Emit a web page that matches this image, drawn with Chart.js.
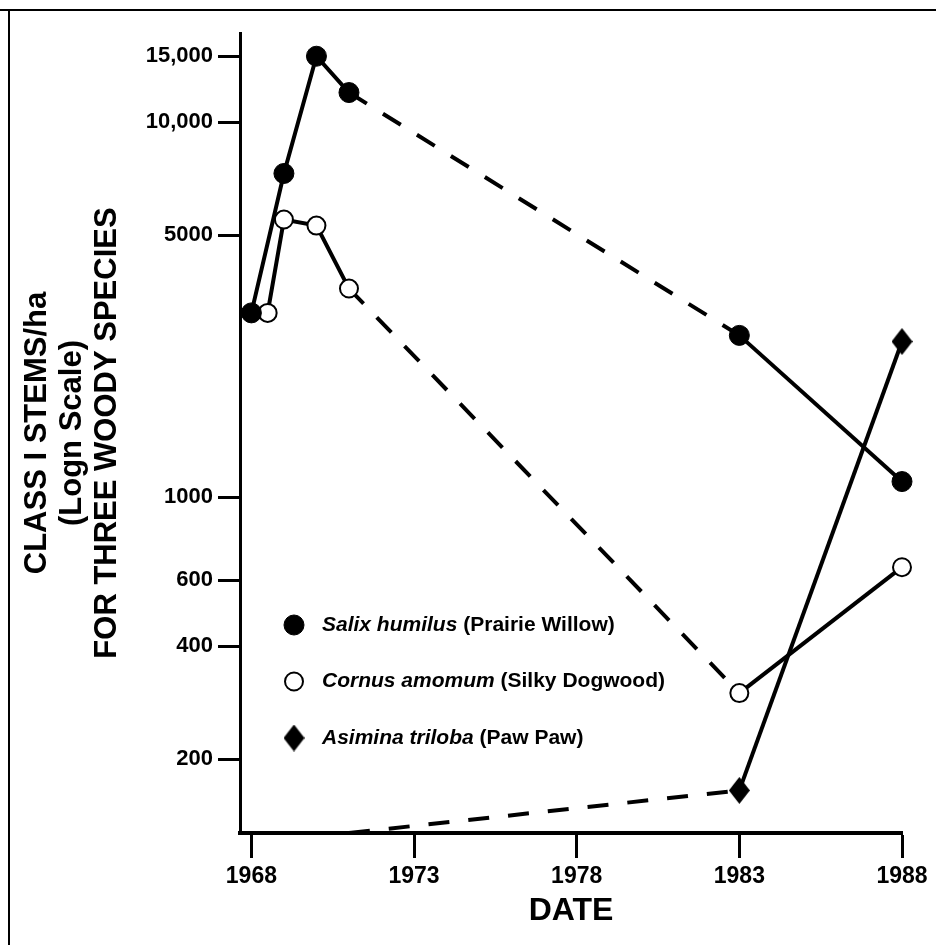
<!DOCTYPE html>
<html>
<head>
<meta charset="utf-8">
<title>Class I stems of three woody species</title>
<script src="https://cdn.jsdelivr.net/npm/chart.js@4.4.1/dist/chart.umd.min.js"></script>
<style>
  html, body { margin: 0; padding: 0; background: #fff; }
  #chart { display: block; }
</style>
</head>
<body>
<canvas id="chart" width="936" height="945"></canvas>
<script>
// Class I stems/ha (log scale)
const salixYears   = [1968, 1969, 1970, 1971, 1983, 1988];
const salixStems   = [3100, 7300, 15000, 12000, 2700, 1100];
const cornusYears  = [1968.5, 1969, 1970, 1971, 1983, 1988];
const cornusStems  = [3100, 5500, 5300, 3600, 300, 650];
// none recorded in 1971: the line leaves from the axis floor
const asiminaYears = [1971, 1983, 1988];
const asiminaStems = [127, 165, 2600];

const speciesLatin  = ["Salix humilus", "Cornus amomum", "Asimina triloba"];
const speciesCommon = ["(Prairie Willow)", "(Silky Dogwood)", "(Paw Paw)"];

const yearTicks = [1968, 1973, 1978, 1983, 1988];
const stemTicks = [200, 400, 600, 1000, 5000, 10000, 15000];

const yTitle = ["CLASS I STEMS/ha", "(Logn Scale)", "FOR THREE WOODY SPECIES"];
const xTitle = "DATE";

const Y_MIN = 127;
const Y_MAX = 17300;
const X_MIN = 1967.65;
const X_MAX = 1988;

const FONT = "'Liberation Sans', Arial, Helvetica, sans-serif";
const DASH = [21, 19];

// tall diamond marker (canvas pointStyle)
function diamond(w, h) {
  const c = document.createElement("canvas");
  c.width = w;
  c.height = h;
  const g = c.getContext("2d");
  g.fillStyle = "#000";
  g.beginPath();
  g.moveTo(w / 2, 0);
  g.lineTo(w, h / 2);
  g.lineTo(w / 2, h);
  g.lineTo(0, h / 2);
  g.closePath();
  g.fill();
  return c;
}
const diamondMark = diamond(21, 27);

const toPoints = (xs, ys) => xs.map((x, i) => ({ x, y: ys[i] }));

// long gaps between surveys are drawn dashed
const segmentStyle = {
  borderDash: (c) => (c.p1.parsed.x - c.p0.parsed.x > 5 ? DASH : undefined),
};

const floorless = (r) => (c) => (c.raw && c.raw.y <= Y_MIN ? 0 : r);

const datasets = [
  {
    label: speciesLatin[0],
    data: toPoints(salixYears, salixStems),
    borderColor: "#000",
    borderWidth: 4,
    pointStyle: "circle",
    pointRadius: 10,
    pointBackgroundColor: "#000",
    pointBorderColor: "#000",
    pointBorderWidth: 1,
    segment: segmentStyle,
    clip: false,
  },
  {
    label: speciesLatin[1],
    data: toPoints(cornusYears, cornusStems),
    borderColor: "#000",
    borderWidth: 4,
    pointStyle: "circle",
    pointRadius: 9,
    pointBackgroundColor: "#fff",
    pointBorderColor: "#000",
    pointBorderWidth: 2,
    segment: segmentStyle,
    clip: false,
  },
  {
    label: speciesLatin[2],
    data: toPoints(asiminaYears, asiminaStems),
    borderColor: "#000",
    borderWidth: 4,
    pointStyle: diamondMark,
    pointRadius: floorless(10),
    pointBackgroundColor: "#000",
    pointBorderColor: "#000",
    pointBorderWidth: 0,
    segment: segmentStyle,
    clip: false,
  },
];

// legend sits inside the plot, italic latin name + plain common name
const LEGEND_X = 294;
const LEGEND_TOP = 625;
const LEGEND_STEP = 56.5;
const LEGEND_TEXT_X = 322;

function drawMarker(ctx, ds, x, y) {
  const radius = typeof ds.pointRadius === "function" ? 10 : ds.pointRadius;
  ctx.fillStyle = ds.pointBackgroundColor;
  ctx.strokeStyle = ds.pointBorderColor;
  ctx.lineWidth = ds.pointBorderWidth;
  if (Chart.helpers && Chart.helpers.drawPoint) {
    Chart.helpers.drawPoint(ctx, { pointStyle: ds.pointStyle, radius, borderWidth: ds.pointBorderWidth, rotation: 0 }, x, y);
  } else if (ds.pointStyle === "circle") {
    ctx.beginPath();
    ctx.arc(x, y, radius, 0, Math.PI * 2);
    ctx.fill();
    if (ds.pointBorderWidth) ctx.stroke();
  } else {
    ctx.drawImage(ds.pointStyle, x - ds.pointStyle.width / 2, y - ds.pointStyle.height / 2);
  }
}

const insideLegend = {
  id: "insideLegend",
  afterDatasetsDraw(chart) {
    const { ctx } = chart;
    ctx.save();
    chart.data.datasets.forEach((ds, i) => {
      const y = LEGEND_TOP + i * LEGEND_STEP;
      drawMarker(ctx, ds, LEGEND_X, y);
      ctx.fillStyle = "#000";
      ctx.textBaseline = "middle";
      ctx.textAlign = "left";
      ctx.font = `italic bold 21px ${FONT}`;
      ctx.fillText(speciesLatin[i], LEGEND_TEXT_X, y);
      const w = ctx.measureText(speciesLatin[i] + " ").width;
      ctx.font = `bold 21px ${FONT}`;
      ctx.fillText(speciesCommon[i], LEGEND_TEXT_X + w, y);
    });
    ctx.restore();
  },
};

// white page and the scanned frame lines (top and left)
const pageFrame = {
  id: "pageFrame",
  beforeDraw(chart) {
    const { ctx, width, height } = chart;
    ctx.save();
    ctx.fillStyle = "#fff";
    ctx.fillRect(0, 0, width, height);
    ctx.restore();
  },
  afterDraw(chart) {
    const { ctx, width, height } = chart;
    ctx.save();
    ctx.strokeStyle = "#000";
    ctx.lineWidth = 2;
    ctx.beginPath();
    ctx.moveTo(0, 10);
    ctx.lineTo(width, 10);
    ctx.moveTo(9, 9);
    ctx.lineTo(9, height);
    ctx.stroke();
    ctx.restore();
  },
};

new Chart(document.getElementById("chart"), {
  type: "line",
  data: { datasets },
  plugins: [pageFrame, insideLegend],
  options: {
    responsive: false,
    animation: false,
    devicePixelRatio: 1,
    events: [],
    layout: { padding: { top: 33, right: 34, bottom: 0, left: 0 } },
    plugins: {
      legend: { display: false },
      tooltip: { enabled: false },
    },
    scales: {
      x: {
        type: "linear",
        min: X_MIN,
        max: X_MAX,
        afterBuildTicks: (s) => { s.ticks = yearTicks.map((v) => ({ value: v })); },
        afterFit: (s) => { s.height = 112; },
        border: { display: true, color: "#000", width: 4 },
        grid: { drawOnChartArea: false, drawTicks: true, tickLength: 25, tickWidth: 3, tickColor: "#000" },
        ticks: {
          color: "#000",
          padding: 5,
          autoSkip: false,
          maxRotation: 0,
          font: { family: FONT, size: 23, weight: "bold" },
          callback: (v) => String(v),
        },
        title: {
          display: true,
          text: xTitle,
          color: "#000",
          font: { family: FONT, size: 32, weight: "bold" },
          padding: { top: 0, bottom: 15 },
        },
      },
      y: {
        type: "logarithmic",
        min: Y_MIN,
        max: Y_MAX,
        afterBuildTicks: (s) => { s.ticks = stemTicks.map((v) => ({ value: v })); },
        afterFit: (s) => { s.width = 240; },
        border: { display: true, color: "#000", width: 3 },
        grid: { drawOnChartArea: false, drawTicks: true, tickLength: 22, tickWidth: 3, tickColor: "#000" },
        ticks: {
          color: "#000",
          padding: 5,
          autoSkip: false,
          font: { family: FONT, size: 22, weight: "bold" },
          callback: (v) => (v >= 10000 ? v.toLocaleString("en-US") : String(v)),
        },
        title: {
          display: true,
          text: yTitle,
          color: "#000",
          font: { family: FONT, size: 31, weight: "bold", lineHeight: 1.13 },
          padding: { top: 19.5, bottom: 0 },
        },
      },
    },
  },
});
</script>
</body>
</html>
